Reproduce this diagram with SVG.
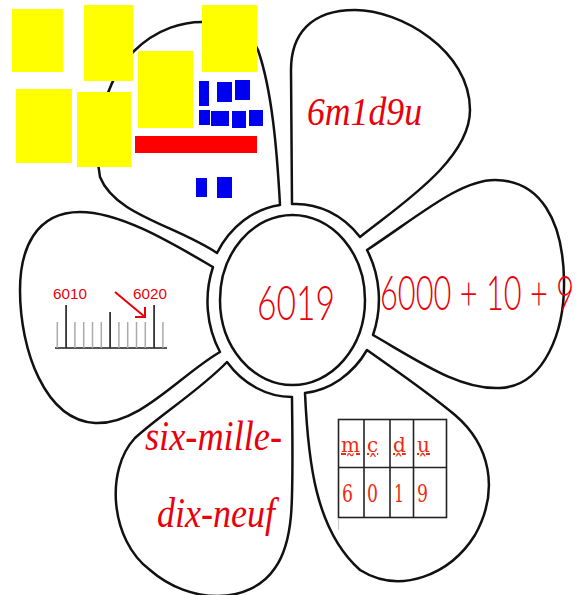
<svg xmlns="http://www.w3.org/2000/svg" width="588" height="595" viewBox="0 0 588 595">
<defs>
<style>
.petal{fill:#fff;stroke:#111;stroke-width:2.5;stroke-linejoin:round}
.y{fill:#ffff00}
.b{fill:#0000f0}
.red{fill:#e8000a}
.sans{font-family:"Lato","Open Sans","Liberation Sans",sans-serif;font-weight:300}
.curs{font-family:"Liberation Serif","DejaVu Serif",serif;font-style:italic}
.tab{font-family:"DejaVu Serif","Liberation Serif",serif;fill:#ee2a10}
.grid{fill:none;stroke:#222;stroke-width:1.6}
.tick{stroke:#aaa;stroke-width:1.5}
.big{stroke:#333;stroke-width:1.8}
</style>
</defs>
<rect width="588" height="595" fill="#fff"/>

<g id="petal-top-left">
<path class="petal" d="M 217 253 A 85 97 0 0 1 280 205 C 277 150, 272 90, 258 50 C 245 20, 180 5, 133 52 C 105 80, 92 135, 100 177 C 115 215, 175 225, 217 253 Z"/>
<rect class="y" x="12" y="9" width="51" height="63"/>
<rect class="y" x="84" y="5" width="49" height="76"/>
<rect class="y" x="202" y="5" width="55" height="67"/>
<rect class="y" x="138" y="51" width="55" height="77"/>
<rect class="y" x="16" y="89" width="56" height="74"/>
<rect class="y" x="77" y="92" width="54" height="75"/>
<rect x="135" y="136" width="122" height="17" fill="#ff0000"/>
<rect class="b" x="199" y="81" width="10" height="25"/>
<rect class="b" x="217" y="82" width="15" height="20"/>
<rect class="b" x="235" y="80" width="15" height="20"/>
<rect class="b" x="199" y="110" width="11" height="15"/>
<rect class="b" x="211" y="111" width="18" height="15"/>
<rect class="b" x="232" y="111" width="14" height="17"/>
<rect class="b" x="249" y="110" width="14" height="16"/>
<rect class="b" x="196" y="178" width="11" height="19"/>
<rect class="b" x="217" y="177" width="15" height="21"/>
</g>

<g id="petal-top-right">
<path class="petal" d="M 292 204 A 85 97 0 0 1 360 237 C 400 205, 470 160, 470 110 C 470 50, 400 10, 355 10 C 310 10, 291 35, 291 70 L 292 204 Z"/>
<text class="curs red" x="307" y="125" font-size="40" textLength="115" lengthAdjust="spacingAndGlyphs">6m1d9u</text>
</g>

<g id="petal-right">
<path class="petal" d="M 367 250 A 85 97 0 0 1 373 335 C 420 362, 460 390, 500 388 C 545 386, 565 330, 564 280 C 563 220, 540 180, 495 180 C 460 180, 420 215, 367 250 Z"/>
<text class="sans red" x="380" y="310" font-size="48" textLength="194" lengthAdjust="spacingAndGlyphs">6000 + 10 + 9</text>
</g>

<g id="petal-bottom-right">
<path class="petal" d="M 367 350 A 85 97 0 0 1 305 393 C 308 460, 315 530, 360 570 C 400 595, 450 575, 475 535 C 500 490, 490 445, 455 415 C 425 390, 395 370, 367 350 Z"/>
<rect class="grid" x="338.5" y="419.5" width="108" height="98"/>
<line class="grid" x1="338.5" y1="467.5" x2="446.5" y2="467.5"/>
<line class="grid" x1="364" y1="419.5" x2="364" y2="517.5"/>
<line class="grid" x1="390" y1="419.5" x2="390" y2="517.5"/>
<line class="grid" x1="413.5" y1="419.5" x2="413.5" y2="517.5"/>
<line x1="338.5" y1="518" x2="338.5" y2="530" stroke="#ccc" stroke-width="1.2"/>
<text class="tab" x="341" y="452" font-size="20" text-decoration="underline">m̰</text>
<text class="tab" x="367" y="452" font-size="20" text-decoration="underline">c̭</text>
<text class="tab" x="393" y="452" font-size="20" text-decoration="underline">ḓ</text>
<text class="tab" x="417" y="452" font-size="20" text-decoration="underline">ṷ</text>
<text class="tab" x="342" y="502" font-size="24" textLength="11" lengthAdjust="spacingAndGlyphs">6</text>
<text class="tab" x="367" y="502" font-size="24" textLength="11" lengthAdjust="spacingAndGlyphs">0</text>
<text class="tab" x="394" y="502" font-size="24" textLength="10" lengthAdjust="spacingAndGlyphs">1</text>
<text class="tab" x="417" y="502" font-size="24" textLength="11" lengthAdjust="spacingAndGlyphs">9</text>
</g>

<g id="petal-bottom-left">
<path class="petal" d="M 292 397 A 85 97 0 0 1 227 362 C 200 390, 160 415, 135 438 C 105 470, 110 540, 150 570 C 190 605, 250 605, 275 568 C 295 540, 293 500, 292 397 Z"/>
<text class="curs red" x="145" y="450" font-size="42" textLength="137" lengthAdjust="spacingAndGlyphs">six-mille-</text>
<text class="curs red" x="157" y="527" font-size="42" textLength="118" lengthAdjust="spacingAndGlyphs">dix-neuf</text>
</g>

<g id="petal-left">
<path class="petal" d="M 220 352 A 85 97 0 0 1 213 267 C 170 242, 120 212, 80 212 C 35 212, 20 250, 20 290 C 20 350, 45 420, 95 423 C 140 425, 180 375, 220 352 Z"/>
<line x1="55" y1="348" x2="167" y2="348" stroke="#555" stroke-width="2"/>
<g class="tick">
<line x1="57.3" y1="322" x2="57.3" y2="348"/>
<line x1="74.9" y1="322" x2="74.9" y2="348"/>
<line x1="83.7" y1="322" x2="83.7" y2="348"/>
<line x1="92.5" y1="322" x2="92.5" y2="348"/>
<line x1="101.3" y1="322" x2="101.3" y2="348"/>
<line x1="118.9" y1="322" x2="118.9" y2="348"/>
<line x1="127.7" y1="322" x2="127.7" y2="348"/>
<line x1="136.5" y1="322" x2="136.5" y2="348"/>
<line x1="145.3" y1="322" x2="145.3" y2="348"/>
<line x1="162.9" y1="322" x2="162.9" y2="348"/>
</g>
<g class="big">
<line x1="66.1" y1="305" x2="66.1" y2="348"/>
<line x1="110.1" y1="312" x2="110.1" y2="348"/>
<line x1="154.1" y1="305" x2="154.1" y2="348"/>
</g>
<text class="red" x="53" y="299" font-family="Liberation Sans, sans-serif" font-size="15" textLength="34" lengthAdjust="spacingAndGlyphs">6010</text>
<text class="red" x="133" y="299" font-family="Liberation Sans, sans-serif" font-size="15" textLength="34" lengthAdjust="spacingAndGlyphs">6020</text>
</g>

<g id="connectors">
<line x1="115" y1="292" x2="145" y2="317" stroke="#e8000a" stroke-width="2"/>
<polyline points="135,317 145,317 145,307" fill="none" stroke="#e8000a" stroke-width="2"/>
</g>

<g id="center">
<ellipse cx="292.5" cy="300" rx="72.5" ry="85" fill="#fff" stroke="#111" stroke-width="2.5"/>
<text class="sans red" x="257" y="320" font-size="48" textLength="78" lengthAdjust="spacingAndGlyphs">6019</text>
</g>
</svg>
